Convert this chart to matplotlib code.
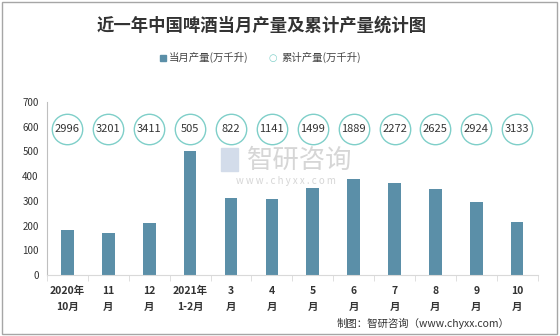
import matplotlib.pyplot as plt
import numpy as np
from matplotlib.patches import Rectangle

plt.rcParams['font.family'] = ['Noto Sans CJK SC', 'DejaVu Sans']

# data
months = ["2020年\n10月", "11\n月", "12\n月", "2021年\n1-2月", "3\n月", "4\n月",
          "5\n月", "6\n月", "7\n月", "8\n月", "9\n月", "10\n月"]
monthly = [182, 169, 209, 502, 313, 309, 353, 387, 371, 349, 294, 213]
cumulative = [2996, 3201, 3411, 505, 822, 1141, 1499, 1889, 2272, 2625, 2924, 3133]

bar_color = "#5B8FA8"
ring_color = "#7FCFC9"

fig = plt.figure(figsize=(5.6, 3.36), dpi=100)
ax = fig.add_axes([0.084, 0.182, 0.876, 0.514])

x = np.arange(len(months))
ax.bar(x, monthly, width=0.31, color=bar_color, zorder=2)

# cumulative values drawn as rings with labels at a fixed height
ring_y = [592] * len(cumulative)
ax.scatter(x, ring_y, s=480, facecolors="white", edgecolors=ring_color,
           linewidths=1.0, zorder=3, clip_on=False)
for xi, yi, v in zip(x, ring_y, cumulative):
    ax.text(xi, yi, str(v), ha="center", va="center", fontsize=8,
            color="#333333", zorder=4)

ax.set_xlim(-0.5, len(months) - 0.5)
ax.set_ylim(0, 700)
ax.set_yticks(range(0, 701, 100))
ax.tick_params(axis="y", length=0, labelsize=7, colors="#333333", pad=6)
ax.set_xticks(x)
ax.set_xticklabels(months, fontsize=7.5, fontweight="bold", color="#333333",
                   linespacing=1.7)
ax.tick_params(axis="x", length=0, pad=8)
ax.set_xticks(np.arange(-0.5, len(months), 1), minor=True)
ax.tick_params(axis="x", which="minor", length=4, color="#d9d9d9")

for s in ["top", "right"]:
    ax.spines[s].set_visible(False)
ax.spines["left"].set_color("#bfbfbf")
ax.spines["bottom"].set_color("#d9d9d9")

# watermark, behind the bars
ax.text(0.535, 0.522, "智研咨询", transform=fig.transFigure, ha="center",
        va="center", fontsize=19, color="#d6d6d6", zorder=1)
ax.add_patch(Rectangle((0.395, 0.49), 0.03, 0.07, transform=fig.transFigure,
                       color="#d3dcea", zorder=1, clip_on=False))
ax.text(0.51, 0.46, "w w w . c h y x x . c o m", transform=fig.transFigure,
        ha="center", va="center", fontsize=7, color="#d6d6d6", zorder=1)

fig.text(0.468, 0.925, "近一年中国啤酒当月产量及累计产量统计图", ha="center",
         va="center", fontsize=12.5, fontweight="bold", color="#333333")

# legend
fig.patches.append(Rectangle((0.286, 0.817), 0.011, 0.02, transform=fig.transFigure,
                             color=bar_color))
fig.text(0.302, 0.828, "当月产量(万千升)", ha="left", va="center", fontsize=7.5,
         color="#444444")
fig.text(0.487, 0.828, "○", ha="center", va="center", fontsize=7,
         color=ring_color, family="DejaVu Sans")
fig.text(0.503, 0.828, "累计产量(万千升)", ha="left", va="center", fontsize=7.5,
         color="#444444")

fig.text(0.91, 0.036, "制图：智研咨询（www.chyxx.com）", ha="right", va="center",
         fontsize=7.5, color="#333333")

fig.patches.append(Rectangle((0.004, 0.006), 0.99, 0.988, transform=fig.transFigure,
                             fill=False, edgecolor="#a6a6a6", linewidth=1))

fig.savefig("out.png", dpi=100)
